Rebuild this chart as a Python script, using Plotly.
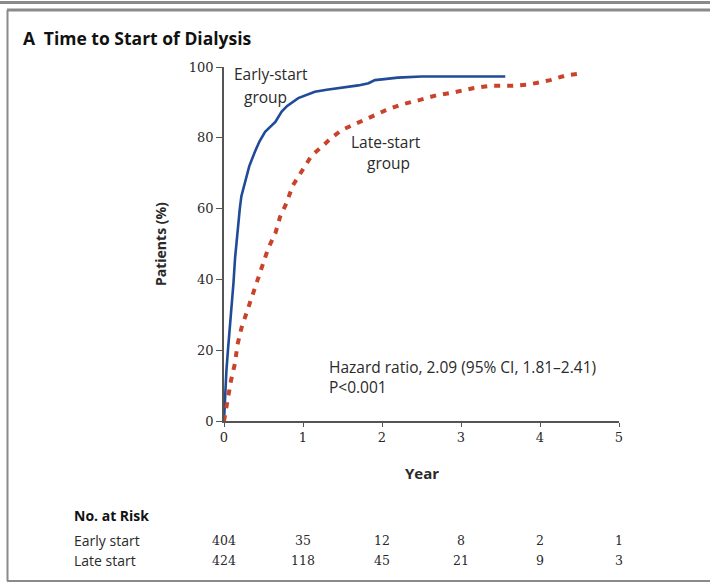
import plotly.graph_objects as go

# Cumulative incidence of dialysis start (%), by year since randomization
early_years = [0, 0.01, 0.03, 0.05, 0.07, 0.09, 0.12, 0.14, 0.17, 0.20, 0.22, 0.27, 0.32,
               0.39, 0.45, 0.52, 0.60, 0.65, 0.73, 0.80, 0.94, 1.05, 1.15, 1.30, 1.45,
               1.57, 1.70, 1.83, 1.91, 2.00, 2.20, 2.50, 3.00, 3.56]
early_pct = [0, 6.8, 14, 20, 25, 31, 39, 46, 54, 60, 63.5, 68, 72,
             76, 79, 81.7, 83.5, 84.5, 87.4, 89, 91.2, 92.2, 93, 93.6, 94,
             94.4, 94.8, 95.4, 96.3, 96.5, 97, 97.3, 97.3, 97.3]

late_years = [0, 0.02, 0.05, 0.09, 0.14, 0.17, 0.22, 0.29, 0.35, 0.43, 0.50, 0.56, 0.65,
              0.71, 0.79, 0.87, 0.98, 1.11, 1.24, 1.34, 1.49, 1.66, 1.87, 2.05, 2.23,
              2.48, 2.69, 2.90, 3.15, 3.37, 3.66, 3.87, 4.13, 4.34, 4.53]
late_pct = [0, 3, 6.5, 11.6, 16.4, 21.5, 26.2, 30.9, 35, 39.8, 44.6, 48.8, 53,
            57.7, 61.5, 66.5, 70.4, 75, 77.5, 79.6, 82.2, 84, 86, 87.8, 89.3,
            90.7, 92, 92.8, 94, 94.7, 94.7, 95.1, 96.3, 97.7, 98.2]

# Number at risk table
risk_years = [0, 1, 2, 3, 4, 5]
risk_groups = ["Early start", "Late start"]
risk_early = [404, 35, 12, 8, 2, 1]
risk_late = [424, 118, 45, 21, 9, 3]

x_ticks = [0, 1, 2, 3, 4, 5]
y_ticks = [0, 20, 40, 60, 80, 100]

W, H = 710, 583
L, R, T, B = 224, 91, 67, 162
PW, PH = W - L - R, H - T - B


def px(xp):
    return (xp - L) / PW


def py(yp):
    return (H - B - yp) / PH


SANS = "Open Sans"
SERIF = "DejaVu Serif"
INK = "#2a2a2a"

fig = go.Figure()
fig.add_trace(go.Scatter(x=early_years, y=early_pct, mode="lines",
                         line=dict(color="#1f4b97", width=2.6),
                         showlegend=False, hoverinfo="skip"))
fig.add_trace(go.Scatter(x=late_years, y=late_pct, mode="lines",
                         line=dict(color="#c9432b", width=4, dash="6px,7px"),
                         showlegend=False, hoverinfo="skip"))


def note(x, y, text, xref="paper", yref="paper", size=14, family=SANS,
         xanchor="center", color=INK, **kw):
    return dict(x=x, y=y, xref=xref, yref=yref, text=text, showarrow=False,
                xanchor=xanchor, yanchor="middle",
                font=dict(family=family, size=size, color=color), **kw)


ann = []
# Panel title
ann.append(note(px(21), py(38), "<b>A</b>\u2002<b>Time to Start of Dialysis</b>",
                size=17.5, xanchor="left", color="#111"))
# Axis titles
ann.append(note(px(160), py(244), "<b>Patients (%)</b>", textangle=-90))
ann.append(note(2.5, py(473), "<b>Year</b>", xref="x", size=15))
# Curve labels
ann.append(note(0.59, 98, "Early-start", xref="x", yref="y", size=15.5))
ann.append(note(0.52, 91.5, "group", xref="x", yref="y", size=15.5))
ann.append(note(2.05, 78.8, "Late-start", xref="x", yref="y", size=15.5))
ann.append(note(2.08, 72.9, "group", xref="x", yref="y", size=15.5))
# Statistics (two-line block)
ann.append(note(1.31, 12.4,
                "Hazard ratio, 2.09 (95% CI, 1.81\u20132.41)<br>P<0.001",
                xref="x", yref="y", xanchor="left", align="left", size=15.5))

# Number-at-risk table
ann.append(note(px(72), py(515), "<b>No. at Risk</b>", xanchor="left", color="#111"))
for row_y, name, counts in [(540, risk_groups[0], risk_early),
                            (560, risk_groups[1], risk_late)]:
    ann.append(note(px(72), py(row_y), name, xanchor="left"))
    for yr, n in zip(risk_years, counts):
        ann.append(note(yr, py(row_y), str(n), xref="x", family=SERIF, size=12.5))

# Frame rules around the panel (open on the right)
frame = dict(color="#8a8a8a", width=3)
shapes = [
    dict(type="line", xref="paper", yref="paper", x0=px(0), x1=px(W + 10),
         y0=py(2.5), y1=py(2.5), line=frame),
    dict(type="line", xref="paper", yref="paper", x0=px(7), x1=px(W + 10),
         y0=py(10), y1=py(10), line=frame),
    dict(type="line", xref="paper", yref="paper", x0=px(7.5), x1=px(7.5),
         y0=py(10), y1=py(581), line=dict(color="#8a8a8a", width=2)),
    dict(type="line", xref="paper", yref="paper", x0=px(7), x1=px(W + 10),
         y0=py(581), y1=py(581), line=dict(color="#8a8a8a", width=2)),
]

axis_common = dict(showgrid=False, zeroline=False, showline=True,
                   linecolor="#555", linewidth=1.5, ticks="outside",
                   tickwidth=1.2, tickcolor="#555",
                   tickfont=dict(family=SERIF, size=13, color=INK))

fig.update_layout(
    width=W, height=H,
    margin=dict(l=L, r=R, t=T, b=B),
    paper_bgcolor="white", plot_bgcolor="white",
    xaxis=dict(range=[0, 5], tickvals=x_ticks, ticklen=4, **axis_common),
    yaxis=dict(range=[0, 100], tickvals=y_ticks, ticklen=6, **axis_common),
    annotations=ann, shapes=shapes,
)

fig.write_html("out.html")
